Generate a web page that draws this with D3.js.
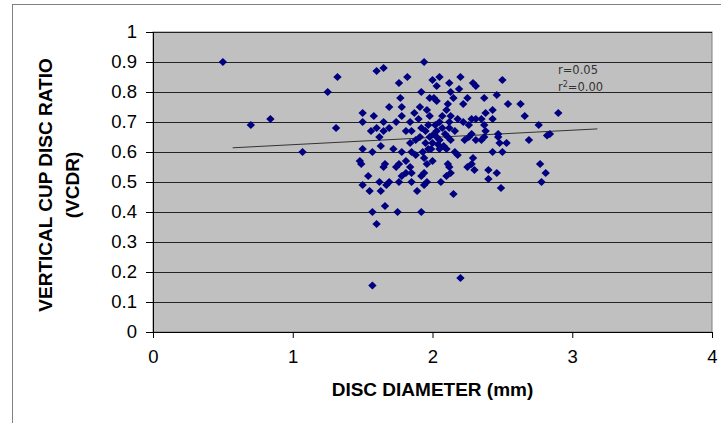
<!DOCTYPE html>
<html>
<head>
<meta charset="utf-8">
<script src="https://cdn.jsdelivr.net/npm/d3@7"></script>
<style>
  body { margin: 0; background: #fff; }
  svg { display: block; }
</style>
</head>
<body>
<svg id="chart"></svg>
<script>
// disc diameter (mm) for each eye
var discDiameter = [
  0.50, 1.32, 1.25, 0.70, 0.84, 1.31, 1.07,
  1.94, 1.60, 1.65, 1.82, 1.76, 2.00, 2.05, 2.03, 1.92, 1.77, 1.98, 2.01, 2.03,
  1.69, 1.78, 1.50, 1.58, 1.50, 1.91, 1.87, 1.96, 1.98, 1.90, 1.78, 1.84, 1.74,
  1.65, 1.60, 1.56, 1.69, 1.81, 1.92, 2.05, 2.03, 1.85, 1.65,
  1.62, 1.63, 1.84, 1.91, 1.98, 2.03, 1.99, 2.05, 1.50, 1.57, 1.72, 1.78, 1.85,
  1.88, 1.48, 1.49, 1.66, 1.65, 1.81, 1.76, 1.74, 1.84, 1.94, 1.96, 2.00, 1.54,
  1.78, 1.81, 1.85, 1.92, 1.94, 1.50, 1.62, 1.67, 1.69, 1.76, 1.85, 1.96, 1.94,
  2.06, 1.55, 1.63, 1.89, 1.66, 1.57, 1.75, 1.92, 1.95, 2.00, 2.04,
  1.60, 1.57, 2.20, 2.15, 2.49, 2.40, 2.46, 2.10, 2.13,
  2.20, 2.12, 2.29, 2.31, 2.50, 2.19, 2.13, 2.15, 2.25, 2.37, 2.46, 2.22, 2.11,
  2.10, 2.54, 2.43, 2.38, 2.43, 2.13, 2.18, 2.22, 2.12, 2.28, 2.31, 2.35, 2.26,
  2.37, 2.38, 2.12, 2.16, 2.28, 2.47,
  2.11, 2.13, 2.23, 2.26, 2.31, 2.35, 2.37, 2.47, 2.48, 2.53, 2.10, 2.16, 2.18,
  2.43, 2.50, 2.29, 2.28, 2.11, 2.12, 2.25, 2.30, 2.40,
  2.63, 2.66, 2.90, 2.76, 2.69, 2.84, 2.82, 2.77, 2.81, 2.78,
  1.97, 2.02, 2.07, 2.09, 2.01, 1.95, 2.07, 2.05, 1.97, 2.08, 1.88, 1.93
];
// vertical cup disc ratio for the same eyes
var vcdr = [
  0.90, 0.85, 0.80, 0.69, 0.71, 0.68, 0.60,
  0.90, 0.87, 0.88, 0.85, 0.83, 0.84, 0.85, 0.82, 0.80, 0.78, 0.78, 0.78, 0.77,
  0.75, 0.75, 0.73, 0.72, 0.70, 0.75, 0.73, 0.74, 0.72, 0.71, 0.72, 0.70, 0.70,
  0.70, 0.68, 0.67, 0.68, 0.67, 0.68, 0.70, 0.67, 0.67, 0.67,
  0.65, 0.62, 0.63, 0.65, 0.65, 0.65, 0.61, 0.61, 0.61, 0.60, 0.61, 0.60, 0.60,
  0.59, 0.57, 0.56, 0.56, 0.55, 0.57, 0.56, 0.55, 0.55, 0.58, 0.56, 0.57, 0.52,
  0.52, 0.53, 0.53, 0.52, 0.53, 0.49, 0.50, 0.49, 0.50, 0.50, 0.50, 0.50, 0.49,
  0.50, 0.47, 0.47, 0.47, 0.42, 0.40, 0.40, 0.40, 0.63, 0.63, 0.625,
  0.36, 0.155, 0.18, 0.46, 0.48, 0.51, 0.53, 0.52, 0.53,
  0.85, 0.83, 0.83, 0.82, 0.84, 0.81, 0.80, 0.78, 0.78, 0.78, 0.79, 0.76, 0.76,
  0.74, 0.76, 0.74, 0.73, 0.71, 0.72, 0.71, 0.70, 0.70, 0.71, 0.71, 0.71, 0.69,
  0.69, 0.67, 0.68, 0.67, 0.66, 0.66,
  0.65, 0.64, 0.64, 0.65, 0.64, 0.64, 0.65, 0.65, 0.63, 0.63, 0.61, 0.60, 0.59,
  0.60, 0.60, 0.58, 0.56, 0.56, 0.55, 0.55, 0.54, 0.54,
  0.76, 0.72, 0.73, 0.69, 0.64, 0.66, 0.655, 0.56, 0.53, 0.50,
  0.69, 0.69, 0.68, 0.66, 0.66, 0.67, 0.72, 0.64, 0.61, 0.62, 0.64, 0.60
];
// linear trend line ends as drawn
var trendX = [0.57, 3.18];
var trendY = [0.614, 0.677];
var statLabels = ["r=0.05", "r²=0.00"];

var xTicks = [0, 1, 2, 3, 4];
var yTicks = [0, 0.1, 0.2, 0.3, 0.4, 0.5, 0.6, 0.7, 0.8, 0.9, 1];

var chart_width = 721;
var chart_height = 423;
var margin = { top: 32, right: 9, bottom: 91, left: 153 };
var width = chart_width - margin.left - margin.right;
var height = chart_height - margin.top - margin.bottom;

var svg = d3.select('#chart')
    .attr('width', chart_width)
    .attr('height', chart_height);

// outer chart area border (runs off right/bottom edge)
svg.append('rect')
    .attr('x', 12.5).attr('y', 4.5)
    .attr('width', 730).attr('height', 440)
    .attr('fill', 'none')
    .attr('stroke', '#808080');

var g = svg.append('g')
    .attr('transform', 'translate(' + margin.left + ',' + margin.top + ')');

var x_scale = d3.scaleLinear().domain([0, 4]).range([0, width]);
var y_scale = d3.scaleLinear().domain([0, 1]).range([height, 0]);

g.append('rect')
    .attr('width', width).attr('height', height)
    .attr('fill', '#c0c0c0')
    .attr('stroke', '#808080');

// horizontal grid
g.append('g')
    .selectAll('line')
    .data(yTicks.slice(1))
    .enter()
    .append('line')
    .attr('x1', 0).attr('x2', width)
    .attr('y1', d => Math.round(y_scale(d)) + 0.5)
    .attr('y2', d => Math.round(y_scale(d)) + 0.5)
    .attr('stroke', '#222');

// axes
var xAxis = g.append('g')
    .attr('transform', 'translate(0,' + height + ')')
    .call(d3.axisBottom(x_scale).tickValues(xTicks).tickSize(6).tickPadding(12)
        .tickFormat(d3.format('d')));

var yAxis = g.append('g')
    .call(d3.axisLeft(y_scale).tickValues(yTicks).tickSize(7).tickPadding(9)
        .tickFormat(d => d === 0 || d === 1 ? String(d) : d.toFixed(1)));

[xAxis, yAxis].forEach(function(a) {
    a.select('.domain').attr('stroke', '#000');
    a.selectAll('line').attr('stroke', '#000');
    a.selectAll('text')
        .attr('fill', '#000')
        .style('font-family', 'Liberation Sans, Arial, sans-serif')
        .style('font-size', '18.5px');
});

// trend line
var line = d3.line()
    .x(d => x_scale(d[0]))
    .y(d => y_scale(d[1]));

g.append('path')
    .datum(d3.zip(trendX, trendY))
    .attr('fill', 'none')
    .attr('stroke', '#333')
    .attr('stroke-width', 1)
    .attr('d', line);

// points
var pts = d3.zip(discDiameter, vcdr);
g.append('g')
    .selectAll('path')
    .data(pts)
    .enter()
    .append('path')
    .attr('d', 'M0,-4L4.2,0L0,4L-4.2,0Z')
    .attr('transform', d => 'translate(' + x_scale(d[0]) + ',' + y_scale(d[1]) + ')')
    .attr('fill', '#000080');

// r values
var stat = g.append('text')
    .attr('x', 405)
    .attr('y', 42)
    .attr('fill', '#333')
    .style('font-family', 'DejaVu Sans, sans-serif')
    .style('font-size', '11.5px');
stat.append('tspan').attr('x', 405).attr('dy', 0).text(statLabels[0]);
var t2 = stat.append('tspan').attr('x', 405).attr('dy', 17);
t2.append('tspan').text('r');
t2.append('tspan').attr('dy', -4).style('font-size', '8px').text('2');
t2.append('tspan').attr('dy', 4).text('=0.00');

// axis titles
svg.append('text')
    .attr('x', margin.left + width / 2)
    .attr('y', 396)
    .attr('text-anchor', 'middle')
    .style('font-family', 'Liberation Sans, Arial, sans-serif')
    .style('font-weight', 'bold')
    .style('font-size', '19px')
    .text('DISC DIAMETER (mm)');

var yt = svg.append('text')
    .attr('transform', 'translate(52,185) rotate(-90)')
    .attr('text-anchor', 'middle')
    .style('font-family', 'Liberation Sans, Arial, sans-serif')
    .style('font-weight', 'bold')
    .style('font-size', '19px');
yt.append('tspan').attr('x', 0).attr('dy', 0).text('VERTICAL CUP DISC RATIO');
yt.append('tspan').attr('x', 0).attr('dy', 27).text('(VCDR)');
</script>
</body>
</html>
